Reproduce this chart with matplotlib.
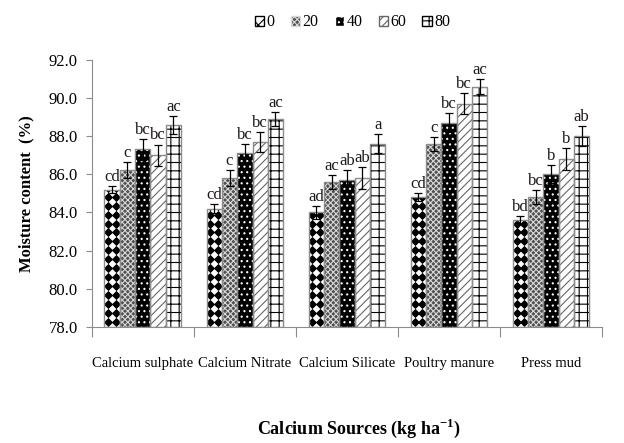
import numpy as np
import matplotlib.pyplot as plt
from matplotlib.patches import Patch

plt.rcParams['font.family'] = ['Liberation Serif', 'DejaVu Serif']
plt.rcParams['hatch.linewidth'] = 0.8

# Calcium sources and applied levels (kg/ha)
sources = ['Calcium sulphate', 'Calcium Nitrate', 'Calcium Silicate',
           'Poultry manure', 'Press mud']
levels = ['0', '20', '40', '60', '80']

# mean moisture content (%) per level, one value per source
moist_0 = [85.2, 84.2, 84.0, 84.8, 83.6]
moist_20 = [86.2, 85.8, 85.6, 87.6, 84.8]
moist_40 = [87.3, 87.1, 85.7, 88.7, 86.0]
moist_60 = [87.0, 87.7, 85.8, 89.7, 86.8]
moist_80 = [88.6, 88.9, 87.6, 90.6, 88.0]

# standard errors
err_0 = [0.2, 0.22, 0.33, 0.21, 0.23]
err_20 = [0.42, 0.42, 0.37, 0.37, 0.38]
err_40 = [0.56, 0.47, 0.52, 0.49, 0.47]
err_60 = [0.56, 0.52, 0.56, 0.56, 0.56]
err_80 = [0.47, 0.37, 0.49, 0.39, 0.51]

# significance letters
let_0 = ['cd', 'cd', 'ad', 'cd', 'bd']
let_20 = ['c', 'c', 'ac', 'c', 'bc']
let_40 = ['bc', 'bc', 'ab', 'bc', 'b']
let_60 = ['bc', 'bc', 'ab', 'bc', 'b']
let_80 = ['ac', 'ac', 'a', 'ac', 'ab']

means = [moist_0, moist_20, moist_40, moist_60, moist_80]
errs = [err_0, err_20, err_40, err_60, err_80]
letters = [let_0, let_20, let_40, let_60, let_80]

# fill style for each level: face, hatch, hatch colour
styles = [
    dict(face='white', hatch=None, hc='black'),     # diamonds drawn separately
    dict(face='#505050', hatch='xxxxxx', hc='#d8d8d8'),
    dict(face='black', hatch='...', hc='white'),
    dict(face='white', hatch='////', hc='#666666'),
    dict(face='white', hatch='++', hc='black'),
]

fig = plt.figure(figsize=(6.24, 4.43), dpi=100)
ax = fig.add_axes([0.147, 0.262, 0.818, 0.603])

x = np.arange(len(sources))
w = 0.15
base = 78.0

for i in range(len(levels)):
    pos = x + (i - 2) * w
    h = np.array(means[i]) - base
    st = styles[i]
    bars = ax.bar(pos, h, w, bottom=base, color=st['face'],
                  edgecolor=st['hc'], hatch=st['hatch'], linewidth=0, zorder=2)
    ax.bar(pos, h, w, bottom=base, fill=False, edgecolor='#8c8c8c',
           linewidth=1.0, zorder=3)
    if i == 0:
        # black diamond pattern clipped to each bar
        for b in bars:
            bx = b.get_x()
            ys = np.arange(base + 0.25, b.get_y() + b.get_height() + 0.3, 0.47)
            for cx in (bx + w * 0.25, bx + w * 0.75):
                pts = ax.scatter(np.full(ys.shape, cx), ys, marker='D', s=22,
                                 color='black', linewidths=0, zorder=2.5)
                pts.set_clip_path(b)
    ax.errorbar(pos, means[i], yerr=errs[i], fmt='none', ecolor='black',
                elinewidth=0.9, capsize=3, capthick=0.9, zorder=4)
    for xp, m, e, t in zip(pos, means[i], errs[i], letters[i]):
        ax.text(xp, m + e + 0.06, t, ha='center', va='bottom',
                fontsize=12, color='#201820', zorder=5)

ax.set_ylim(78, 92)
ax.set_yticks(np.arange(78, 92.1, 2))
ax.set_yticklabels(['%.1f' % v for v in np.arange(78, 92.1, 2)], fontsize=12)
ax.set_xlim(-0.5, len(sources) - 0.5)

# group separators as major ticks, names on minor ticks
ax.set_xticks(np.arange(-0.5, len(sources), 1.0))
ax.set_xticklabels([])
ax.set_xticks(x, minor=True)
ax.set_xticklabels(sources, minor=True, fontsize=10.5)
ax.tick_params(axis='x', which='major', length=7, color='#8c8c8c', direction='out')
ax.tick_params(axis='x', which='minor', length=0, pad=22)
ax.tick_params(axis='y', length=4, color='#8c8c8c', direction='out', pad=6)

for s in ['top', 'right']:
    ax.spines[s].set_visible(False)
for s in ['left', 'bottom']:
    ax.spines[s].set_color('#8c8c8c')

ax.set_ylabel('Moisture content  (%)', fontsize=12, fontweight='bold', labelpad=10)
fig.text(0.575, 0.02, 'Calcium Sources (kg ha$^{\\mathregular{-1}}$)',
         ha='center', fontsize=13, fontweight='bold')

handles = []
for i, st in enumerate(styles):
    if i == 0:
        handles.append(Patch(facecolor='white', edgecolor='black', hatch='xx'))
    else:
        handles.append(Patch(facecolor=st['face'], edgecolor=st['hc'] if st['hatch'] else '#8c8c8c',
                             hatch=st['hatch']))
fig.legend(handles, levels, loc='upper center', bbox_to_anchor=(0.565, 1.0),
           ncol=5, frameon=False, fontsize=11.5, handlelength=0.6,
           handleheight=0.6, handletextpad=0.15, columnspacing=1.0)

fig.savefig('out.png', dpi=100)
